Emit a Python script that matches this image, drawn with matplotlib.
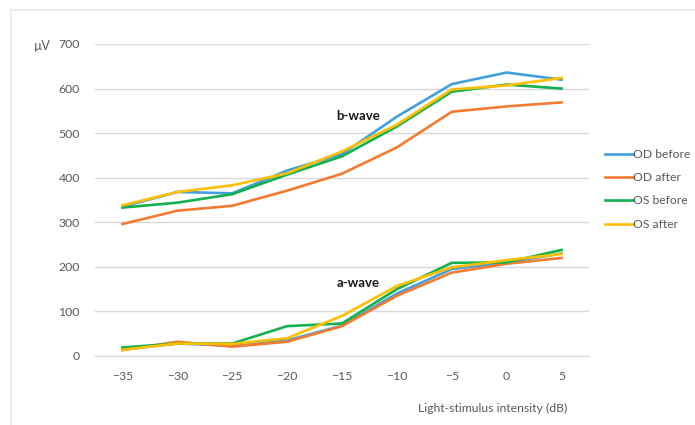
import matplotlib
matplotlib.use("Agg")
import matplotlib.pyplot as plt
from matplotlib.lines import Line2D

plt.rcParams['font.family'] = ['Lato', 'DejaVu Sans']

intensity = [-35, -30, -25, -20, -15, -10, -5, 0, 5]
series_names = ["OD before", "OD after", "OS before", "OS after"]
colors = ["#41A0DC", "#F47B30", "#13B04F", "#FFBF00"]

b_od_before = [335, 368, 365, 416, 453, 537, 610, 636, 620]
b_od_after = [296, 326, 337, 371, 409, 468, 548, 560, 569]
b_os_before = [333, 344, 363, 407, 448, 515, 593, 609, 600]
b_os_after = [338, 368, 383, 410, 459, 519, 598, 607, 624]

a_od_before = [15, 28, 23, 35, 68, 140, 195, 210, 230]
a_od_after = [13, 32, 21, 32, 67, 135, 187, 207, 220]
a_os_before = [19, 28, 28, 67, 73, 150, 209, 210, 238]
a_os_after = [14, 28, 27, 40, 90, 157, 199, 215, 229]

b_wave = [b_od_before, b_od_after, b_os_before, b_os_after]
a_wave = [a_od_before, a_od_after, a_os_before, a_os_after]

y_ticks = [0, 100, 200, 300, 400, 500, 600, 700]

fig = plt.figure(figsize=(6.95, 4.25), dpi=100)
ax = fig.add_axes([95 / 695, 1 - 356 / 425, 494 / 695, 312 / 425])

tick_color = "#595959"
grid_color = "#D9D9D9"

for vals_b, vals_a, name, c in zip(b_wave, a_wave, series_names, colors):
    ax.plot(intensity, vals_b, color=c, lw=1.9, label=name, solid_joinstyle="round")
    ax.plot(intensity, vals_a, color=c, lw=1.9, solid_joinstyle="round")

ax.set_xlim(-37.5, 7.5)
ax.set_ylim(0, 700)
ax.set_xticks(intensity)
ax.set_yticks(y_ticks)
ax.grid(axis="y", color=grid_color, lw=1.0)
ax.set_axisbelow(True)
for s in ["top", "right", "left"]:
    ax.spines[s].set_visible(False)
ax.spines["bottom"].set_color(grid_color)
ax.tick_params(axis="both", length=0, labelsize=8.8, colors=tick_color)
ax.tick_params(axis="x", pad=11)
ax.tick_params(axis="y", pad=11)

ax.text(-13.5, 539, "b-wave", fontsize=9.5, fontweight="bold", color="#1a1a1a",
        ha="center", va="center")
ax.text(-13.5, 163, "a-wave", fontsize=9.5, fontweight="bold", color="#1a1a1a",
        ha="center", va="center")

fig.text(34 / 695, 1 - 46 / 425, "µV", fontsize=9.2, color=tick_color,
         ha="left", va="center")
fig.text(493 / 695, 1 - 408 / 425, "Light-stimulus intensity (dB)", fontsize=8.8,
         color=tick_color, ha="center", va="center")

handles = [Line2D([0], [0], color=c, lw=1.9) for c in colors]
leg = fig.legend(handles, series_names, loc="upper left",
                 bbox_to_anchor=(600 / 695, 1 - 144 / 425), frameon=False,
                 fontsize=8.7, handlelength=2.3, handletextpad=0.0,
                 labelspacing=1.02, borderaxespad=0)
for t in leg.get_texts():
    t.set_color(tick_color)

# faint frame around the chart area
fig.add_artist(Line2D([11 / 695, 11 / 695], [0, 1 - 10 / 425],
                      transform=fig.transFigure, color="#E9E9E9", lw=1.2))
fig.add_artist(Line2D([11 / 695, 1], [1 - 10 / 425, 1 - 10 / 425],
                      transform=fig.transFigure, color="#E9E9E9", lw=1.2))

fig.savefig("out.png", dpi=100)
